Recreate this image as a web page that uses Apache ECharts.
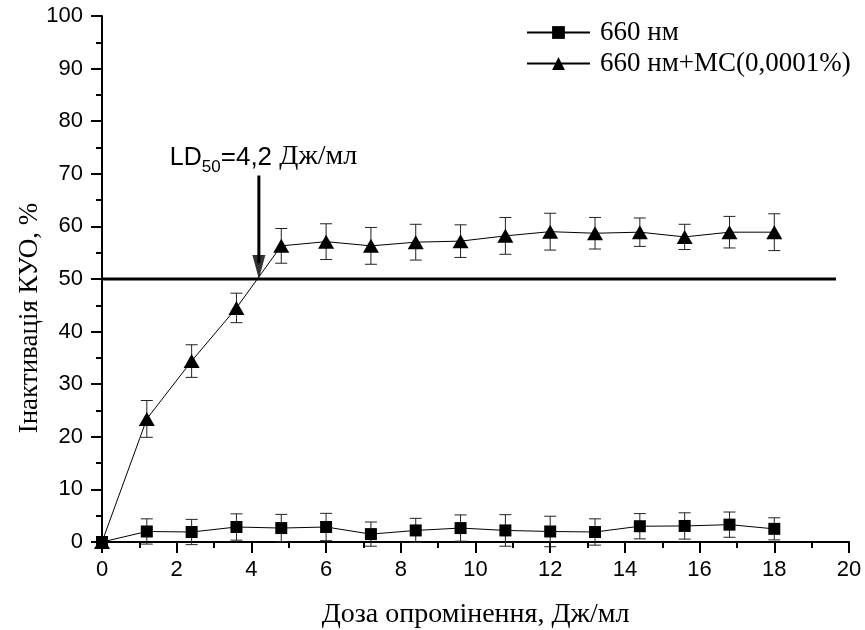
<!DOCTYPE html>
<html>
<head>
<meta charset="utf-8">
<script src="https://cdn.jsdelivr.net/npm/echarts@6/dist/echarts.min.js"></script>
<style>html,body{margin:0;padding:0;background:#fff;}#c{width:865px;height:630px;}</style>
</head>
<body>
<div id="c"></div>
<script>
// Dose values (x)
const doses = [0, 1.2, 2.4, 3.6, 4.8, 6.0, 7.2, 8.4, 9.6, 10.8, 12, 13.2, 14.4, 15.6, 16.8, 18];
// 660 nm
const sqVals = [0, 2.0, 1.9, 2.85, 2.65, 2.85, 1.5, 2.2, 2.65, 2.2, 2.0, 1.9, 3.0, 3.05, 3.3, 2.5];
const sqErr  = [0, 2.4, 2.4, 2.5, 2.6, 2.6, 2.3, 2.3, 2.5, 3.0, 2.9, 2.5, 2.4, 2.5, 2.4, 2.1];
// 660 nm + MC
const triVals = [0, 23.4, 34.4, 44.5, 56.3, 57.1, 56.3, 57.0, 57.2, 58.2, 59.0, 58.7, 58.9, 58.0, 58.9, 58.9];
const triErr  = [0, 3.5, 3.1, 2.8, 3.3, 3.4, 3.5, 3.4, 3.1, 3.5, 3.5, 3.0, 2.7, 2.4, 3.0, 3.5];
// LD50 annotation
const ldDose = 4.2;
const ldLevel = 50;
const ldArrowTop = 69.7;
const levelLineEnd = 19.65;
const names = ['660 нм', '660 нм+МС(0,0001%)'];

const chart = echarts.init(document.getElementById('c'), null, {renderer: 'canvas'});
const sans = 'Liberation Sans, Arial, sans-serif';
const serif = 'Liberation Serif, Times New Roman, serif';

function errBar(params, api) {
  const x = api.value(0), y = api.value(1), e = api.value(2);
  if (!e) return null;
  const lo = api.coord([x, y - e]);
  const hi = api.coord([x, y + e]);
  const w = 6;
  const st = {stroke: '#222', lineWidth: 1};
  return {type: 'group', children: [
    {type: 'line', shape: {x1: lo[0], y1: lo[1], x2: hi[0], y2: hi[1]}, style: st},
    {type: 'line', shape: {x1: lo[0] - w, y1: lo[1], x2: lo[0] + w, y2: lo[1]}, style: st},
    {type: 'line', shape: {x1: hi[0] - w, y1: hi[1], x2: hi[0] + w, y2: hi[1]}, style: st}
  ]};
}

const axisCommon = {
  type: 'value',
  axisLine: {show: true, onZero: false, lineStyle: {color: '#000', width: 2}},
  axisTick: {show: true, inside: false, length: 11, lineStyle: {color: '#000', width: 2}},
  minorTick: {show: true, splitNumber: 2, length: 6, lineStyle: {color: '#000', width: 2}},
  splitLine: {show: false},
  minorSplitLine: {show: false},
  axisLabel: {color: '#000', fontFamily: sans, fontSize: 22}
};

chart.setOption({
  animation: false,
  backgroundColor: '#fff',
  grid: {left: 102, right: 16, top: 16, bottom: 88, containLabel: false, outerBoundsMode: 'none'},
  legend: {
    data: names.map(n => ({name: n})),
    orient: 'vertical', left: 521, top: 14,
    itemWidth: 63, itemHeight: 16, itemGap: 4,
    textStyle: {color: '#000', fontFamily: serif, fontSize: 27, padding: [0, 0, 0, 5]}
  },
  xAxis: Object.assign({}, axisCommon, {
    min: 0, max: 20, interval: 2,
    axisLabel: Object.assign({}, axisCommon.axisLabel, {margin: 17}),
    name: 'Доза опромінення, Дж/мл', nameLocation: 'middle', nameGap: 59,
    nameTextStyle: {color: '#000', fontFamily: serif, fontSize: 28}
  }),
  yAxis: Object.assign({}, axisCommon, {
    min: 0, max: 100, interval: 10,
    axisLabel: Object.assign({}, axisCommon.axisLabel, {margin: 19})
  }),
  series: [
    {name: names[0], type: 'line', data: doses.map((d, i) => [d, sqVals[i]]),
     symbol: 'rect', symbolSize: 12, showAllSymbol: true, z: 3, clip: false,
     itemStyle: {color: '#000'}, lineStyle: {color: '#000', width: 1}},
    {name: names[1], type: 'line', data: doses.map((d, i) => [d, triVals[i]]),
     symbol: 'triangle', symbolSize: [16, 14], showAllSymbol: true, z: 3, clip: false,
     itemStyle: {color: '#000'}, lineStyle: {color: '#000', width: 1}},
    {type: 'custom', renderItem: errBar, z: 2, silent: true,
     data: doses.map((d, i) => [d, sqVals[i], sqErr[i]]), encode: {x: 0, y: 1}},
    {type: 'custom', renderItem: errBar, z: 2, silent: true,
     data: doses.map((d, i) => [d, triVals[i], triErr[i]]), encode: {x: 0, y: 1}},
    {type: 'line', data: [[0, ldLevel], [levelLineEnd, ldLevel]], symbol: 'none', z: 4, silent: true,
     lineStyle: {color: '#000', width: 3}},
    {type: 'line', data: [[ldDose, ldArrowTop], [ldDose, ldLevel + 3]], symbol: 'none', z: 4, silent: true,
     lineStyle: {color: '#000', width: 3}},
    {type: 'scatter', data: [[ldDose, ldLevel]], z: 5, silent: true,
     symbol: 'path://M0,0 L12,0 L6,23 Z', symbolKeepAspect: false, symbolSize: [13, 24], symbolOffset: [0, -12],
     itemStyle: {color: '#000'}}
  ]
});

// Annotation text LD50 = 4,2 Дж/мл and y axis title
const ctx = document.createElement('canvas').getContext('2d');
function tw(txt, font) { ctx.font = font; return ctx.measureText(txt).width; }
const p = chart.convertToPixel({gridIndex: 0}, [ldDose, ldArrowTop]);
const bottom = p[1] - 5;
let x0 = p[0] - 89;
const parts = [
  {t: 'LD', size: 25, fam: sans, dy: 0},
  {t: '50', size: 17, fam: sans, dy: 5},
  {t: '=4,2 ', size: 26, fam: sans, dy: 0},
  {t: 'Дж/мл', size: 28, fam: serif, dy: 0}
];
const gfx = [];
parts.forEach(pt => {
  gfx.push({type: 'text', x: x0, y: bottom + pt.dy, z: 10,
    style: {text: pt.t, fill: '#000', font: pt.size + 'px ' + pt.fam, align: 'left', verticalAlign: 'bottom'}});
  x0 += tw(pt.t, pt.size + 'px ' + pt.fam);
});
gfx.push({type: 'text', x: 30, y: 318, rotation: Math.PI / 2, z: 10,
  style: {text: 'Інактивація КУО, %', fill: '#000', font: '27px ' + serif, align: 'center', verticalAlign: 'middle'}});
chart.setOption({graphic: gfx});
</script>
</body>
</html>
